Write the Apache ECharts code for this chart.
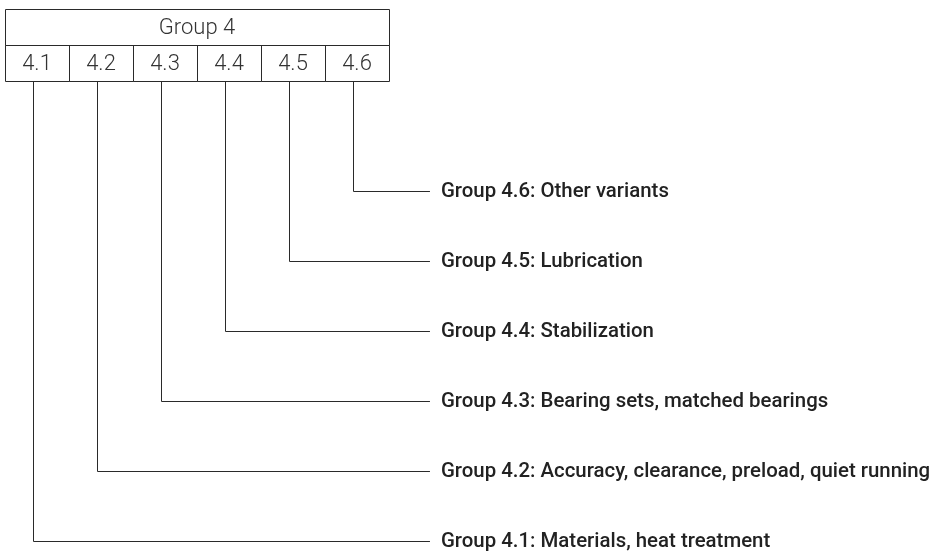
<!DOCTYPE html>
<html>
<head>
<meta charset="utf-8">
<script src="https://cdn.jsdelivr.net/npm/echarts@6/dist/echarts.min.js"></script>
<style>html,body{margin:0;padding:0;background:#fff}#c{width:938px;height:551px}</style>
</head>
<body>
<div id="c"></div>
<script>
// ---- data ----
const groupTitle = 'Group 4';
const subgroups = ['4.1', '4.2', '4.3', '4.4', '4.5', '4.6'];
const descriptions = [
  'Group 4.1: Materials, heat treatment',
  'Group 4.2: Accuracy, clearance, preload, quiet running',
  'Group 4.3: Bearing sets, matched bearings',
  'Group 4.4: Stabilization',
  'Group 4.5: Lubrication',
  'Group 4.6: Other variants'
];
const rowLevel = [0, 1, 2, 3, 4, 5]; // vertical level of each description (0 = bottom)

// ---- styles ----
const LINE = '#2a2a2a';
const TXT = '#222222';
const ROW_H = 36;          // px height of each box row
const LINE_END_X = 6.14;   // x (axis units) where connector lines end
const CONNECT_SHIFT = -4;  // px shift of connector relative to cell centre

const chart = echarts.init(document.getElementById('c'), null, {renderer: 'canvas'});

const cellData = subgroups.map((s, i) => [i, rowLevel[i]]);

const option = {
  animation: false,
  backgroundColor: '#ffffff',
  grid: {left: 5, top: 9, right: 0, bottom: 10, containLabel: false},
  xAxis: {type: 'value', min: -0.5, max: 14.078, show: false},
  yAxis: {type: 'value', min: 0, max: 7.6, show: false},
  series: [
    {
      type: 'custom',
      coordinateSystem: 'cartesian2d',
      data: [[0]],
      renderItem: function (params, api) {
        const cs = params.coordSys;
        const x0 = api.coord([-0.5, 0])[0];
        const x1 = api.coord([subgroups.length - 0.5, 0])[0];
        const top = cs.y;
        return {
          type: 'group',
          children: [
            {type: 'rect', shape: {x: Math.round(x0) + 0.5, y: top + 0.5, width: Math.round(x1 - x0), height: ROW_H},
             style: {fill: 'none', stroke: LINE, lineWidth: 1}},
            {type: 'text', style: {text: groupTitle, x: (x0 + x1) / 2, y: top + ROW_H / 2 + 1,
             align: 'center', verticalAlign: 'middle',
             font: '300 22px "Roboto", sans-serif', fill: '#333'}}
          ]
        };
      }
    },
    {
      type: 'custom',
      coordinateSystem: 'cartesian2d',
      data: cellData,
      renderItem: function (params, api) {
        const i = api.value(0);
        const lvl = api.value(1);
        const cs = params.coordSys;
        const top = cs.y + ROW_H;
        const xa = Math.round(api.coord([i - 0.5, 0])[0]);
        const xb = Math.round(api.coord([i + 0.5, 0])[0]);
        const cx = Math.round(api.coord([i, 0])[0] + CONNECT_SHIFT) + 0.5;
        const yRow = Math.round(api.coord([0, lvl])[1]) + 0.5;
        const xEnd = api.coord([LINE_END_X, 0])[0];
        return {
          type: 'group',
          children: [
            {type: 'rect', shape: {x: xa + 0.5, y: top + 0.5, width: xb - xa, height: ROW_H},
             style: {fill: 'none', stroke: LINE, lineWidth: 1}},
            {type: 'text', style: {text: subgroups[i], x: (xa + xb) / 2, y: top + ROW_H / 2 + 1,
             align: 'center', verticalAlign: 'middle',
             font: '300 22px "Roboto", sans-serif', fill: '#333'}},
            {type: 'polyline', shape: {points: [[cx, top + ROW_H + 0.5], [cx, yRow], [xEnd, yRow]]},
             style: {fill: 'none', stroke: LINE, lineWidth: 1}},
            {type: 'text', style: {text: descriptions[i], x: xEnd + 11, y: yRow,
             align: 'left', verticalAlign: 'middle',
             font: '500 20.4px "Roboto", sans-serif', fill: TXT}}
          ]
        };
      }
    }
  ]
};
chart.setOption(option);
</script>
</body>
</html>
